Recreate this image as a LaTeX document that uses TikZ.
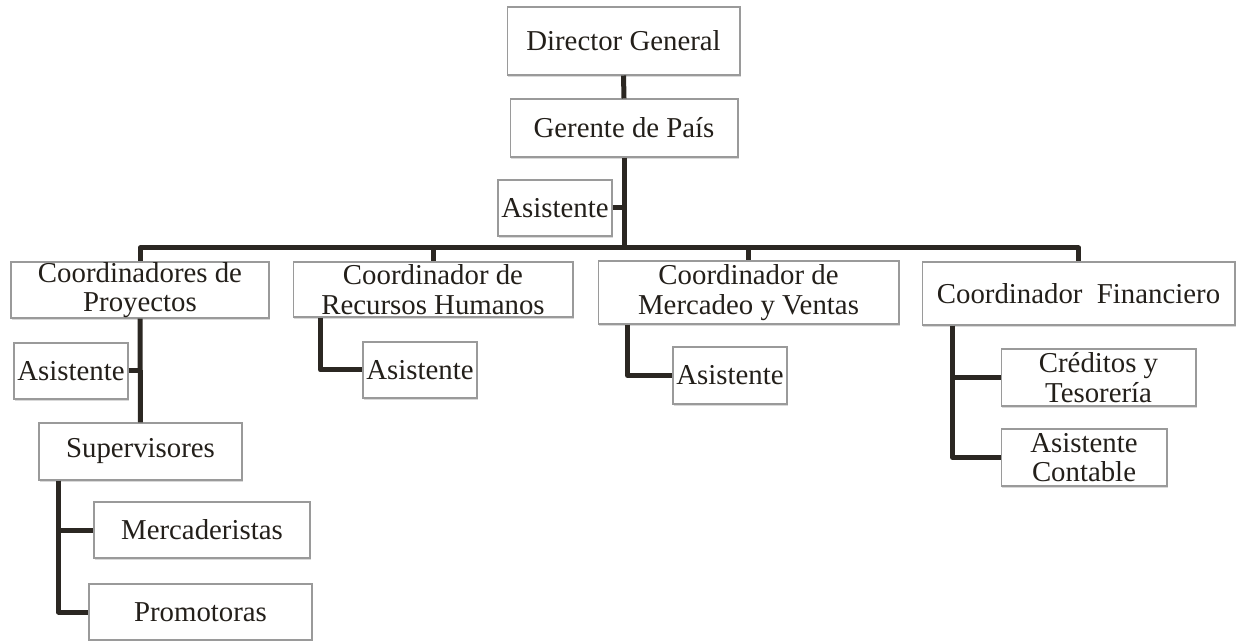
\documentclass[tikz,border=0pt]{standalone}
\usepackage{fontspec}
\setmainfont{Liberation Serif}
\usetikzlibrary{shadows}
\definecolor{linea}{HTML}{2B2722}
\definecolor{borde}{HTML}{9A9A9A}
\definecolor{letra}{HTML}{231F1A}
\tikzset{
    caja/.style={draw=borde,line width=0.6pt,fill=white,inner sep=0pt,align=center,
        text=letra,font=\fontsize{16.4}{16.8}\selectfont,
        drop shadow={shadow xshift=0.8pt,shadow yshift=-1.2pt,opacity=0.3}},
    enlace/.style={linea,line width=0.1cm,line join=round}
}
\begin{document}
\begin{tikzpicture}[x=0.02cm,y=-0.02cm]
    \useasboundingbox (0,0) rectangle (1236,641);
    \node[caja,minimum width=4.66cm,minimum height=1.36cm] (dir) at (623.5,41) {Director General};
    \node[caja,minimum width=4.56cm,minimum height=1.16cm] (ger) at (624,128) {Gerente de País};
    \node[caja,minimum width=2.28cm,minimum height=1.12cm] (asis0) at (555,208) {Asistente};
    \node[caja,minimum width=5.16cm,minimum height=1.12cm] (proy) at (140,290) {Coordinadores de\\Proyectos};
    \node[caja,minimum width=5.60cm,minimum height=1.10cm] (rrhh) at (433,289.5) {Coordinador de\\Recursos Humanos};
    \node[caja,minimum width=6.02cm,minimum height=1.26cm] (merc) at (748.5,292.5) {Coordinador de\\Mercadeo y Ventas};
    \node[caja,minimum width=6.26cm,minimum height=1.26cm] (fin) at (1078.5,293.5) {Coordinador\ \ Financiero};
    \node[caja,minimum width=2.28cm,minimum height=1.12cm] (asis1) at (71,371) {Asistente};
    \node[caja,minimum width=2.28cm,minimum height=1.12cm] (asis2) at (420,370) {Asistente};
    \node[caja,minimum width=2.28cm,minimum height=1.14cm] (asis3) at (730,375.5) {Asistente};
    \node[caja,minimum width=3.90cm,minimum height=1.14cm] (cred) at (1098.5,377.5) {Créditos y\\Tesorería};
    \node[caja,minimum width=3.32cm,minimum height=1.14cm] (cont) at (1084,457.5) {Asistente\\Contable};
    \node[caja,minimum width=4.06cm,minimum height=1.14cm] (sup) at (140.5,451.5) {Supervisores};
    \node[caja,minimum width=4.32cm,minimum height=1.12cm] (mcd) at (202,530) {Mercaderistas};
    \node[caja,minimum width=4.46cm,minimum height=1.12cm] (prom) at (200.5,612) {Promotoras};
    \coordinate (barra) at (624,248);
    \draw[enlace] (dir.south) -- (ger.north);
    \draw[enlace] (ger.south) -- (barra);
    \foreach \c in {proy,rrhh,merc,fin}
        \draw[enlace] (barra) -| (\c.north);
    \draw[enlace] (asis0.east) -- (asis0.east -| barra);
    \draw[enlace] (proy.south) -- (sup.north);
    \draw[enlace] (asis1.east) -- (asis1.east -| proy.south);
    \draw[enlace] (rrhh.south west) ++(28,0) |- (asis2.west);
    \draw[enlace] (merc.south west) ++(30,0) |- (asis3.west);
    \draw[enlace] (fin.south west) ++(31,0) |- (cred.west);
    \draw[enlace] (fin.south west) ++(31,0) |- (cont.west);
    \draw[enlace] (sup.south west) ++(20,0) |- (mcd.west);
    \draw[enlace] (sup.south west) ++(20,0) |- (prom.west);
\end{tikzpicture}
\end{document}
